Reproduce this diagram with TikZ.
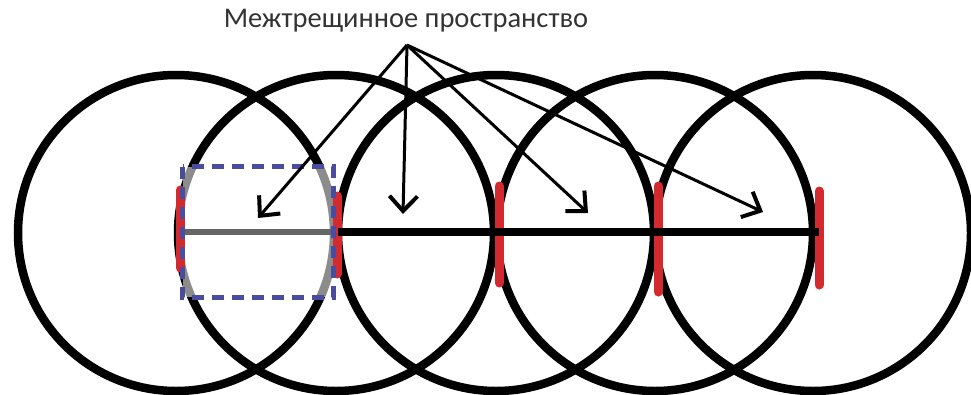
\documentclass[tikz,border=0pt]{standalone}
\usepackage{fontspec}
\setmainfont{Carlito}
\usetikzlibrary{arrows.meta,positioning}
\definecolor{crackred}{HTML}{D22A2E}
\definecolor{zoneblue}{HTML}{4A4C9E}
\definecolor{labelgray}{HTML}{333333}

\begin{document}
\begin{tikzpicture}[
    x=1pt, y=-1pt,
    grain/.style={draw=black, circle, line width=8.5pt, minimum size=316pt, inner sep=0pt},
    crack/.style={draw=crackred, line width=9pt, line cap=round},
    gapline/.style={draw=black, line width=7.5pt},
    zone/.style={draw=zoneblue, line width=5pt, dash pattern=on 12pt off 8pt},
    arrow/.style={-{Straight Barb[length=15pt, width=28pt, line width=4pt]}, line width=3pt},
    title/.style={font=\fontsize{28.5}{32}\selectfont, text=labelgray, inner sep=0pt},
]
\useasboundingbox[fill=white] (0,0) rectangle (971,394);

% ===== GRAINS =====
\foreach \cx/\gname in {176/g1, 336/g2, 496/g3, 655/g4, 813/g5}
    \node[grain] (\gname) at (\cx,233) {};

% selected zone (faded inside)
\node[fill=white, fill opacity=0.55, minimum width=150pt, minimum height=130pt,
    inner sep=0pt] (zone) at (258,232) {};
\draw[gapline, line width=6pt, black!60] (zone.west) -- (zone.east);

% ===== CRACKS =====
\foreach \x/\ya/\yb in {180/190/268, 337/196/274, 499/186/283, 658/186/292, 819/191/285}
    \draw[crack] (\x,\ya) -- (\x,\yb);

\draw[zone] (zone.north west) rectangle (zone.south east);

% space between cracks
\coordinate (gapstart) at (338,232);
\coordinate (gapend) at (819,232);
\draw[gapline] (gapstart) -- (gapend);

% ===== LABEL =====
\node[title] (title) at (406,21) {Межтрещинное пространство};
\coordinate (apex) at (407,45);
\coordinate (t1) at (258,218);
\coordinate (t2) at (403,214);
\coordinate (t3) at (588,213);
\coordinate (t4) at (763,212);

\draw[arrow] (apex) -- (t1);
\draw[arrow] (apex) -- (t2);
\draw[arrow] (apex) -- (t3);
\draw[arrow] (apex) -- (t4);

\end{tikzpicture}
\end{document}
